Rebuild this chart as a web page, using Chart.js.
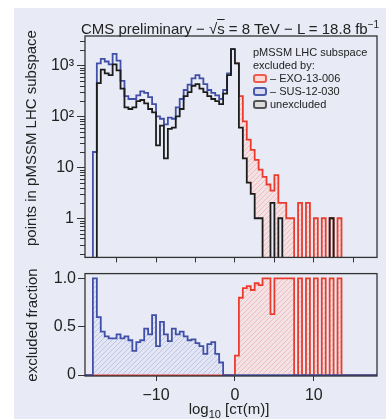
<!DOCTYPE html>
<html>
<head>
<meta charset="utf-8">
<script src="https://cdn.jsdelivr.net/npm/chart.js@4.4.1/dist/chart.umd.min.js"></script>
<style>
  body { margin: 0; background: #fff; font-family: "Liberation Sans", Arial, sans-serif; color: #222; }
  #wrap { position: relative; width: 386px; height: 419px; overflow: hidden; }
  #panel { position: absolute; left: 14px; top: 8px; right: 0; bottom: 0; background: #e8ebf5; }
  canvas { position: absolute; left: 0; }
  .txt { position: absolute; white-space: nowrap; }
  .rot { width: 260px; height: 18px; line-height: 18px; text-align: center; font-size: 15px; transform: rotate(-90deg); }
  #legend { left: 253px; top: 46px; font-size: 11px; line-height: 13px; }
  .box { display: inline-block; width: 10px; height: 5px; border: 2px solid; border-radius: 3px; margin-right: 3px; vertical-align: -1px; }
</style>
</head>
<body>
<div id="wrap">
  <div id="panel"></div>
  <canvas id="top" width="386" height="270" style="top:0"></canvas>
  <canvas id="bottom" width="386" height="157" style="top:262px"></canvas>

  <div class="txt" style="left:80px; top:16px; width:300px; text-align:center; font-size:15px; line-height:18px;">
    CMS preliminary − √<span style="text-decoration:overline">s</span> = 8 TeV − L = 18.8 fb<sup style="font-size:10px">−1</sup>
  </div>
  <div class="txt rot" style="left:-99px; top:129px;">points in pMSSM LHC subspace</div>
  <div class="txt rot" style="left:-98px; top:316px;">excluded fraction</div>
  <div class="txt" style="left:169px; top:400px; width:120px; text-align:center; font-size:15px; line-height:18px;">
    log<sub style="font-size:11px">10</sub> [cτ(m)]
  </div>
  <div class="txt" id="legend">
    <div>pMSSM LHC subspace</div>
    <div>excluded by:</div>
    <div><span class="box" style="border-color:#ee5a4c; background:#fbd9d6"></span>– EXO-13-006</div>
    <div><span class="box" style="border-color:#4858aa; background:#d9dcf0"></span>– SUS-12-030</div>
    <div><span class="box" style="border-color:#555; background:#dcdcdc"></span>unexcluded</div>
  </div>
</div>

<script>
// bins of 0.5 in log10(c*tau/m), first bin starts at -18
const binStart = -18;
const binWidth = 0.5;

// top panel: number of points per bin
const unexcluded = [0, 450, 830, 700, 650, 1050, 800, 350, 150, 140, 150, 200, 210, 180, 140, 120, 27, 66, 15, 57,
  60, 100, 140, 250, 300, 400, 430, 350, 300, 250, 220, 200, 175, 280, 650, 2100, 1100, 60, 15, 5,
  3, 1, 1, 0, 0, 2, 0, 1, 0, 0, 0, 0, 0, 0, 0, 0, 0, 0, 0, 0,
  1, 0, 0, 0, 0];
const withSus = [20, 1100, 1350, 1200, 1050, 1700, 1250, 500, 250, 220, 220, 260, 310, 290, 240, 175, 100, 90, 70, 95,
  90, 150, 220, 330, 420, 560, 650, 560, 430, 330, 290, 260, 220, 330, 700, 2100, null, null, null, null,
  null, null, null, null, null, null, null, null, null, null, null, null, null, null, null, null, null, null, null, null,
  null, null, null, null, null];
const withExo = [null, null, null, null, null, null, null, null, null, null, null, null, null, null, null, null, null, null, null, null,
  null, null, null, null, null, null, null, null, null, null, null, null, null, null, null, null, 1100, 250, 80, 35,
  22, 14, 9, 6.5, 4.6, 3.5, 7, 2, 2, 1, 1, 0, 2, 0, 2, 0, 1, 0, 1, 0,
  1, 0, 1, 0, 0];

// bottom panel: excluded fraction per bin
const fracSus = [1.0, 0.6, 0.45, 0.4, 0.38, 0.38, 0.42, 0.38, 0.4, 0.36, 0.25, 0.34, 0.36, 0.48, 0.42, 0.62, 0.3, 0.55, 0.42, 0.35,
  0.48, 0.42, 0.45, 0.4, 0.36, 0.37, 0.33, 0.3, 0.22, 0.32, 0.34, 0.22, 0.13, 0, 0, 0, 0, 0, 0, 0,
  0, 0, 0, 0, 0, 0, 0, 0, 0, 0, 0, 0, 0, 0, 0, 0, 0, 0, 0, 0,
  0, 0, 0, 0, 0];
const fracExo = [0, 0, 0, 0, 0, 0, 0, 0, 0, 0, 0, 0, 0, 0, 0, 0, 0, 0, 0, 0,
  0, 0, 0, 0, 0, 0, 0, 0, 0, 0, 0, 0, 0, 0, 0, 0, 0.2, 0.8, 0.9, 0.92,
  0.88, 0.95, 0.93, 1.0, 1.0, 0.63, 1, 1, 1, 1, 1, 0, 1, 0, 1, 0, 1, 0, 1, 0,
  1, 0, 1, 0, 0];

// axes
const xMin = -19, xMax = 18;
const xTicksTop = [-15, -10, -5, 0, 5, 10, 15];
const xTicksBottom = [-10, 0, 10];
const yTicksTop = [1, 10, 100, 1000];
const yLabelsTop = ['1', '10', '10²', '10³'];
const yTicksBottom = [0, 0.5, 1];
const yLabelsBottom = ['0', '0.5', '1.0'];

const binEdges = unexcluded.map((_, i) => binStart + i * binWidth);

// minor ticks for the log axis
const yMinorTop = [];
[0.1, 1, 10, 100, 1000].forEach(d => {
  for (let k = 2; k <= 9; k++) yMinorTop.push(d * k);
});

function stepPoints(values, startY, endY) {
  const first = values.findIndex(v => v !== null);
  let last = values.length - 1;
  while (values[last] === null) last--;
  const pts = [];
  if (startY !== undefined) pts.push({ x: binEdges[first], y: startY });
  for (let i = first; i <= last; i++) pts.push({ x: binEdges[i], y: values[i] });
  pts.push({ x: binEdges[last] + binWidth, y: values[last] });
  if (endY !== undefined) pts.push({ x: binEdges[last] + binWidth, y: endY });
  return pts;
}

// empty bins can't sit on a log axis: push them below the visible range
const logFloor = 0.05;
function logPoints(values, startY, endY) {
  return stepPoints(values, startY, endY).map(p => ({ x: p.x, y: p.y === 0 ? logFloor : p.y }));
}

function hatch(bg, line) {
  const c = document.createElement('canvas');
  c.width = 5; c.height = 5;
  const g = c.getContext('2d');
  g.fillStyle = bg;
  g.fillRect(0, 0, 5, 5);
  g.strokeStyle = line;
  g.lineWidth = 1;
  g.beginPath();
  g.moveTo(0, 5); g.lineTo(5, 0);
  g.moveTo(-1, 1); g.lineTo(1, -1);
  g.moveTo(4, 6); g.lineTo(6, 4);
  g.stroke();
  return g.createPattern(c, 'repeat');
}

const redHatch = hatch('rgba(255,215,210,0.45)', 'rgba(235,120,110,0.35)');
const blueHatch = hatch('rgba(215,218,240,0.35)', 'rgba(110,120,190,0.3)');

const tickFont = { family: '"Liberation Sans", Arial, sans-serif', size: 16 };

// frame around the plot area + short minor ticks
const framePlugin = {
  id: 'frame',
  afterDraw(chart, args, opts) {
    const { ctx, chartArea: a } = chart;
    ctx.save();
    ctx.strokeStyle = '#333';
    ctx.lineWidth = 1.3;
    ctx.strokeRect(a.left, a.top, a.right - a.left, a.bottom - a.top);
    if (opts.minor) {
      const y = chart.scales.y;
      ctx.lineWidth = 1;
      opts.minor.forEach(v => {
        const py = Math.round(y.getPixelForValue(v)) + 0.5;
        if (py < a.top || py > a.bottom) return;
        ctx.beginPath();
        ctx.moveTo(a.left - 5, py);
        ctx.lineTo(a.left, py);
        ctx.stroke();
      });
    }
    ctx.restore();
  }
};

function fmt(v) {
  return v < 0 ? '\u2212' + Math.abs(v) : String(v);
}

const lineBase = { pointRadius: 0, borderWidth: 1.8, stepped: true, tension: 0, fill: false };

new Chart(document.getElementById('top'), {
  type: 'line',
  data: {
    datasets: [
      { ...lineBase, label: 'unexcluded', data: logPoints(unexcluded, undefined, 0), borderColor: '#1c1c1c' },
      { ...lineBase, label: 'EXO-13-006', data: logPoints(withExo, undefined, 0), borderColor: '#ea3b2c',
        backgroundColor: redHatch, fill: '-1' },
      { ...lineBase, label: 'SUS-12-030', data: logPoints(withSus, 0), borderColor: '#4050a8' }
    ]
  },
  options: {
    responsive: false,
    animation: false,
    devicePixelRatio: 1,
    layout: { padding: { top: 36, right: 9, left: 0, bottom: 0 } },
    plugins: { legend: { display: false }, tooltip: { enabled: false }, frame: { minor: yMinorTop } },
    scales: {
      x: {
        type: 'linear', min: xMin, max: xMax,
        afterBuildTicks: s => { s.ticks = xTicksTop.map(v => ({ value: v })); },
        afterFit: s => { s.height = 9; },
        ticks: { display: false },
        grid: { drawOnChartArea: false, tickLength: 5, tickColor: '#333' },
        border: { display: false }
      },
      y: {
        type: 'logarithmic', min: 0.17, max: 3800,
        afterBuildTicks: s => { s.ticks = yTicksTop.map(v => ({ value: v, major: true })); },
        afterFit: s => { s.width = 85; },
        ticks: { font: tickFont, color: '#222', padding: 3, autoSkip: false,
          callback: (v, i) => yLabelsTop[i] },
        grid: { drawOnChartArea: false, tickLength: 8, tickColor: '#333' },
        border: { display: false }
      }
    }
  },
  plugins: [framePlugin]
});

function fracPoints(values) {
  return [{ x: xMin, y: 0 }, ...stepPoints(values, 0, 0), { x: xMax, y: 0 }];
}

new Chart(document.getElementById('bottom'), {
  type: 'line',
  data: {
    datasets: [
      { ...lineBase, label: 'SUS-12-030', data: fracPoints(fracSus), borderColor: '#4050a8',
        backgroundColor: blueHatch, fill: 'origin' },
      { ...lineBase, label: 'EXO-13-006', data: fracPoints(fracExo), borderColor: '#ea3b2c',
        backgroundColor: redHatch, fill: 'origin' }
    ]
  },
  options: {
    responsive: false,
    animation: false,
    devicePixelRatio: 1,
    layout: { padding: { top: 10, right: 9, left: 0, bottom: 0 } },
    plugins: { legend: { display: false }, tooltip: { enabled: false }, frame: {} },
    scales: {
      x: {
        type: 'linear', min: xMin, max: xMax,
        afterBuildTicks: s => { s.ticks = xTicksBottom.map(v => ({ value: v })); },
        afterFit: s => { s.height = 43; },
        ticks: { font: tickFont, color: '#222', padding: 5, maxRotation: 0, callback: v => fmt(v) },
        grid: { drawOnChartArea: false, tickLength: 5, tickColor: '#333' },
        border: { display: false }
      },
      y: {
        type: 'linear', min: -0.01, max: 1.05,
        afterBuildTicks: s => { s.ticks = yTicksBottom.map(v => ({ value: v })); },
        afterFit: s => { s.width = 85; },
        ticks: { font: tickFont, color: '#222', padding: 2, callback: (v, i) => yLabelsBottom[i] },
        grid: { drawOnChartArea: false, tickLength: 7, tickColor: '#333' },
        border: { display: false }
      }
    }
  },
  plugins: [framePlugin]
});
</script>
</body>
</html>
